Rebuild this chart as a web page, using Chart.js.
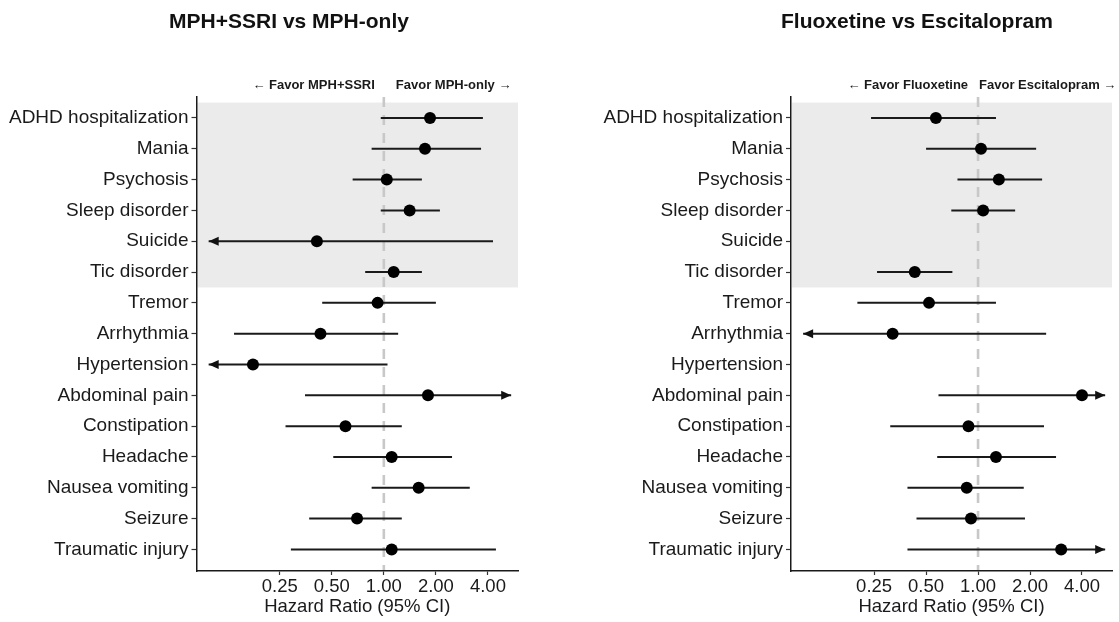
<!DOCTYPE html>
<html>
<head>
<meta charset="utf-8">
<script src="https://cdn.jsdelivr.net/npm/chart.js@4.4.1/dist/chart.umd.min.js"></script>
<style>
    html, body { margin: 0; padding: 0; background: #fff; }
    .row { display: flex; width: 1119px; height: 622px; }
    .panel { position: relative; height: 622px; }
</style>
</head>
<body>
<div class="row">
    <div class="panel" style="width:560px"><canvas id="left"></canvas></div>
    <div class="panel" style="width:559px"><canvas id="right"></canvas></div>
</div>
<script>
// Outcomes, top to bottom. The first six (psychiatric) sit on the grey band.
const ROWS = [
    'ADHD hospitalization', 'Mania', 'Psychosis', 'Sleep disorder', 'Suicide',
    'Tic disorder', 'Tremor', 'Arrhythmia', 'Hypertension', 'Abdominal pain',
    'Constipation', 'Headache', 'Nausea vomiting', 'Seizure', 'Traumatic injury'
];
const SHADED_ROWS = 6;

const X_TICKS = [0.25, 0.5, 1, 2, 4];
const X_MIN = 0.0825;
const X_MAX = 5.97;
// CIs running past these are cut and drawn with an arrow head
const ARROW_LO = 0.097;
const ARROW_HI = 5.45;

// MPH+SSRI vs MPH-only (0 / Infinity = interval runs off the plot)
const MPH_HR = [1.85, 1.73, 1.04, 1.41, 0.41, 1.14, 0.92, 0.43, 0.175, 1.80, 0.60, 1.11, 1.59, 0.70, 1.11];
const MPH_LO = [0.96, 0.85, 0.66, 0.96, 0, 0.78, 0.44, 0.136, 0, 0.35, 0.27, 0.51, 0.85, 0.37, 0.29];
const MPH_HI = [3.74, 3.65, 1.66, 2.11, 4.28, 1.66, 2.00, 1.21, 1.05, Infinity, 1.27, 2.48, 3.14, 1.27, 4.45];

// Fluoxetine vs Escitalopram (null = not estimated)
const FLX_HR = [0.57, 1.04, 1.32, 1.07, null, 0.43, 0.52, 0.32, null, 4.00, 0.88, 1.27, 0.86, 0.91, 3.03];
const FLX_LO = [0.24, 0.50, 0.76, 0.70, null, 0.26, 0.20, 0, null, 0.59, 0.31, 0.58, 0.39, 0.44, 0.39];
const FLX_HI = [1.27, 2.17, 2.35, 1.64, null, 0.71, 1.27, 2.48, null, Infinity, 2.41, 2.83, 1.84, 1.87, Infinity];

const FONT = '"Liberation Sans", Arial, Helvetica, sans-serif';
Chart.defaults.font.family = FONT;
Chart.defaults.color = '#1a1a1a';

function drawArrow(ctx, x, y, dir) {
    ctx.beginPath();
    ctx.moveTo(x, y);
    ctx.lineTo(x - dir * 10, y - 4.5);
    ctx.lineTo(x - dir * 10, y + 4.5);
    ctx.closePath();
    ctx.fill();
}

/**
 * Grey band, HR = 1 reference line, CI segments, panel title and "Favor" labels
 */
const forestPlugin = {
    id: 'forest',
    beforeDraw(chart) {
        const {ctx, chartArea: a, scales: {x, y}} = chart;
        const top = y.getPixelForValue(-0.5);
        const bottom = y.getPixelForValue(SHADED_ROWS - 0.5);
        ctx.save();
        ctx.fillStyle = '#ebebeb';
        ctx.fillRect(a.left + 1, top, a.right - a.left - 1, bottom - top);

        const x1 = x.getPixelForValue(1);
        ctx.strokeStyle = '#c8c8c8';
        ctx.lineWidth = 2.6;
        ctx.setLineDash([10, 8]);
        ctx.beginPath();
        ctx.moveTo(x1, a.top);
        ctx.lineTo(x1, a.bottom);
        ctx.stroke();
        ctx.restore();
    },
    beforeDatasetsDraw(chart, args, opts) {
        const {ctx, scales: {x, y}} = chart;
        ctx.save();
        ctx.strokeStyle = '#1a1a1a';
        ctx.fillStyle = '#111';
        ctx.lineWidth = 2;
        opts.hr.forEach((hr, i) => {
            if (hr == null) {
                return;
            }
            const py = y.getPixelForValue(i);
            const x0 = x.getPixelForValue(Math.max(opts.lo[i], ARROW_LO));
            const x1 = x.getPixelForValue(Math.min(opts.hi[i], ARROW_HI));
            ctx.beginPath();
            ctx.moveTo(x0, py);
            ctx.lineTo(x1, py);
            ctx.stroke();
            if (opts.lo[i] < ARROW_LO) drawArrow(ctx, x0, py, -1);
            if (opts.hi[i] > ARROW_HI) drawArrow(ctx, x1, py, 1);
        });
        ctx.restore();
    },
    afterDraw(chart, args, opts) {
        const {ctx, scales: {x}} = chart;
        const x1 = x.getPixelForValue(1);
        ctx.save();
        ctx.textBaseline = 'middle';

        ctx.font = 'bold 21px ' + FONT;
        ctx.fillStyle = '#111';
        ctx.textAlign = 'center';
        ctx.fillText(opts.title, opts.titleX, 22);

        ctx.font = 'bold 13px ' + FONT;
        ctx.fillStyle = '#1a1a1a';
        ctx.textAlign = 'right';
        ctx.fillText('\u2190 ' + opts.favorLeft, x1 - opts.gap[0], 85);
        ctx.textAlign = 'left';
        ctx.fillText(opts.favorRight + ' \u2192', x1 + opts.gap[1], 85);
        ctx.restore();
    }
};

function makeForest(canvasId, cfg) {
    const points = cfg.hr
        .map((v, i) => (v == null ? null : {x: v, y: i}))
        .filter(p => p !== null);

    return new Chart(document.getElementById(canvasId), {
        type: 'scatter',
        data: {
            datasets: [{
                data: points,
                pointRadius: 6,
                pointHoverRadius: 6,
                pointBackgroundColor: '#000',
                pointBorderWidth: 0,
            }]
        },
        plugins: [forestPlugin],
        options: {
            animation: false,
            responsive: true,
            maintainAspectRatio: false,
            events: [],
            layout: {
                padding: {left: 0, right: cfg.padRight, top: 97, bottom: 0},
            },
            scales: {
                x: {
                    type: 'logarithmic',
                    min: X_MIN,
                    max: X_MAX,
                    afterBuildTicks: s => { s.ticks = X_TICKS.map(v => ({value: v})); },
                    afterFit: s => { s.height = 51; },
                    ticks: {
                        callback: v => Number(v).toFixed(2),
                        font: {size: 18.5},
                        color: '#1a1a1a',
                        padding: 1,
                        autoSkip: false,
                        maxRotation: 0,
                    },
                    grid: {drawOnChartArea: false, tickLength: 4, tickColor: '#333', tickWidth: 1.2},
                    border: {display: true, color: '#1a1a1a', width: 1.5},
                    title: {
                        display: true,
                        text: 'Hazard Ratio (95% CI)',
                        font: {size: 18.5},
                        color: '#1a1a1a',
                        padding: {top: 0, bottom: 4},
                    },
                },
                y: {
                    type: 'linear',
                    reverse: true,
                    min: -0.68,
                    max: 14.7,
                    afterBuildTicks: s => { s.ticks = ROWS.map((_, i) => ({value: i})); },
                    afterFit: s => { s.width = cfg.yWidth; },
                    ticks: {
                        callback: v => ROWS[v],
                        font: {size: 19},
                        color: '#1a1a1a',
                        padding: 3,
                        autoSkip: false,
                    },
                    grid: {drawOnChartArea: false, tickLength: 5, tickColor: '#333', tickWidth: 1.2},
                    border: {display: true, color: '#1a1a1a', width: 1.5},
                },
            },
            plugins: {
                legend: {display: false},
                tooltip: {enabled: false},
                title: {display: false},
                forest: {
                    title: cfg.title,
                    titleX: cfg.titleX,
                    hr: cfg.hr,
                    lo: cfg.lo,
                    hi: cfg.hi,
                    favorLeft: cfg.favorLeft,
                    favorRight: cfg.favorRight,
                    gap: cfg.gap,
                },
            },
        },
    });
}

makeForest('left', {
    title: 'MPH+SSRI vs MPH-only',
    titleX: 289,
    hr: MPH_HR, lo: MPH_LO, hi: MPH_HI,
    favorLeft: 'Favor MPH+SSRI',
    favorRight: 'Favor MPH-only',
    gap: [9, 12],
    padRight: 42, yWidth: 196.5,
});

makeForest('right', {
    title: 'Fluoxetine vs Escitalopram',
    titleX: 357,
    hr: FLX_HR, lo: FLX_LO, hi: FLX_HI,
    favorLeft: 'Favor Fluoxetine',
    favorRight: 'Favor Escitalopram',
    gap: [10, 1],
    padRight: 7, yWidth: 231,
});
</script>
</body>
</html>
